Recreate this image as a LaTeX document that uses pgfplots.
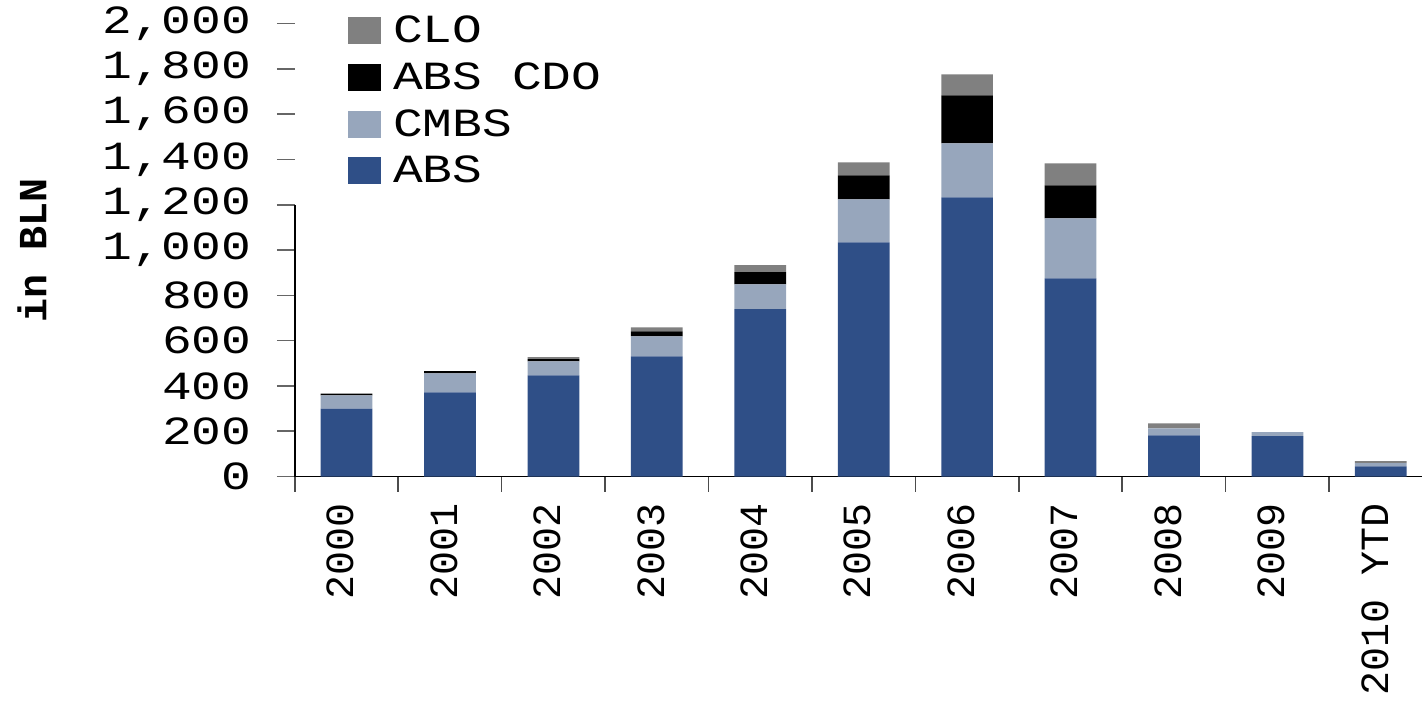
\documentclass[border=0pt]{standalone}
\usepackage{fontspec}
\setmainfont{Liberation Mono}
\newfontfamily\stretchmono{Liberation Mono}[FakeStretch=1.24]
\usepackage{pgfplots}
\pgfplotsset{compat=1.18}
\definecolor{absc}{RGB}{47,79,135}
\definecolor{cmbsc}{RGB}{151,166,188}
\definecolor{cloc}{RGB}{128,128,128}
\begin{document}
\begin{tikzpicture}
\begin{axis}[
  scale only axis, width=564pt, height=226.6pt,
  xmin=-0.5, xmax=10.4, ymin=0, ymax=2000,
  clip=false,
  ybar stacked, bar width=0.5,
  axis x line*=bottom, axis y line*=left,
  y axis line style={draw=none},
  x axis line style={-, black, line width=0.8pt},
  ytick={0,200,...,2000},
  ytick align=outside,
  ytick style={/pgfplots/major tick length=9pt, black!60, line width=0.8pt},
  yticklabel style={font=\stretchmono\fontsize{20}{24}\selectfont, xshift=-14pt},
  /pgf/number format/assume math mode=true,
  /pgf/number format/1000 sep={,},
  xtick={0,...,10},
  xticklabels={2000,2001,2002,2003,2004,2005,2006,2007,2008,2009,2010 YTD},
  xtick align=inside,
  xtick style={/pgfplots/major tick length=5pt, black!85!blue, line width=0.8pt},
  x tick label style={rotate=90, anchor=east, font=\fontsize{20}{24}\selectfont, xshift=-10pt, yshift=3pt},
  extra x ticks={-0.5,0.5,1.5,2.5,3.5,4.5,5.5,6.5,7.5,8.5,9.5},
  extra x tick labels={},
  extra x tick style={xtick align=outside, xtick style={/pgfplots/major tick length=7.5pt, black!70, line width=0.8pt}},
  ylabel={in BLN},
  ylabel style={at={(axis description cs:-0.2332,0.5)}, anchor=center, rotate=0, font=\bfseries\fontsize{20}{24}\selectfont},
  reverse legend,
  legend cell align=left,
  legend image code/.code={\fill[#1] (0pt,-6.75pt) rectangle (16.5pt,6.75pt);},
  legend style={draw=none, fill=none, at={(axis description cs:0.047,1.018)}, anchor=north west,
    font=\stretchmono\fontsize{20}{24}\selectfont, inner sep=0pt, row sep=8.5pt,
    nodes={inner sep=0pt},
    /tikz/every odd column/.append style={column sep=6pt}},
]
\addplot[fill=absc, draw=none] coordinates {(0,300) (1,372) (2,447) (3,531) (4,739) (5,1034) (6,1233) (7,875) (8,182) (9,178) (10,45)};
\addplot[fill=cmbsc, draw=none] coordinates {(0,58) (1,84) (2,62) (3,88) (4,110) (5,190) (6,238) (7,265) (8,31) (9,18) (10,14)};
\addplot[fill=black, draw=none] coordinates {(0,8) (1,9) (2,9) (3,22) (4,53) (5,106) (6,212) (7,146) (8,0) (9,0) (10,0)};
\addplot[fill=cloc, draw=none] coordinates {(0,0) (1,0) (2,9) (3,18) (4,31) (5,57) (6,93) (7,97) (8,22) (9,0) (10,9)};
\legend{ABS,CMBS,ABS CDO,CLO}
\draw[black, line width=0.8pt] (axis cs:-0.5,0) -- (axis cs:-0.5,1200);
\path (rel axis cs:0,0) ++(-147.5pt,-116.85pt) rectangle ++(711.5pt,354pt);
\end{axis}
\end{tikzpicture}
\end{document}
